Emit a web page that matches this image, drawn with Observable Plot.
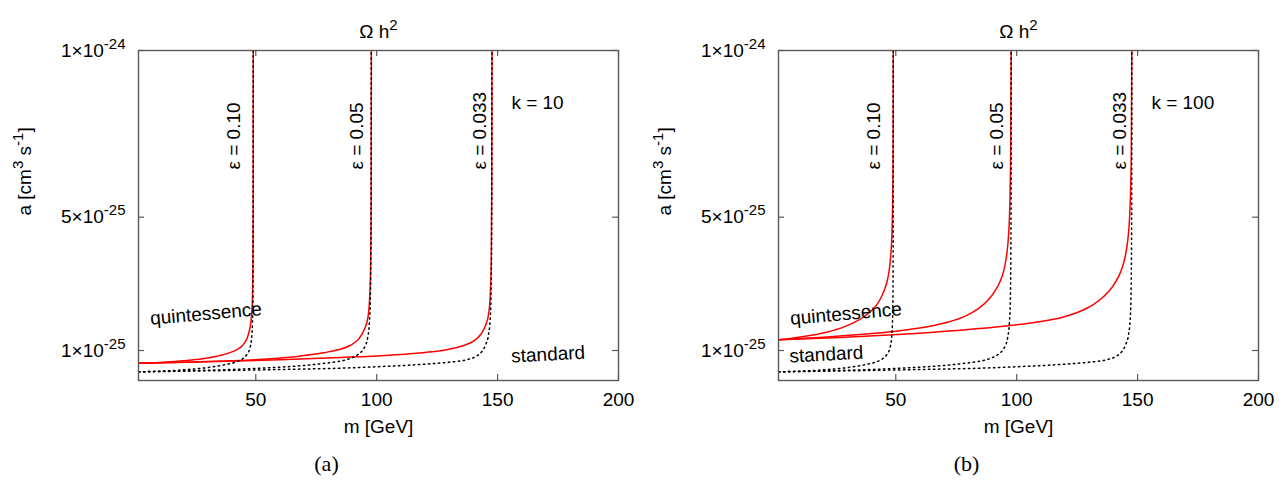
<!DOCTYPE html>
<html><head><meta charset="utf-8">
<script src="https://cdn.jsdelivr.net/npm/d3@7"></script>
<script src="https://cdn.jsdelivr.net/npm/@observablehq/plot@0.6"></script>
<style>
body{margin:0;background:#fff;}
#wrap{display:flex;width:1285px;}
#wrap svg{display:block;}
</style></head><body><div id="wrap"></div>
<script>
// m in GeV; a in units of 1e-25 cm^3 s^-1
const xTicks = [50, 100, 150, 200];
const yTicks = [1, 5, 10];
const yTickLabels = ["1×10^{-25}", "5×10^{-25}", "1×10^{-24}"];
const epsLabels = ["ε = 0.10", "ε = 0.05", "ε = 0.033"];
const kLabels = ["k = 10", "k = 100"];
const panelTags = ["(a)", "(b)"];

// standard cosmology (black dotted), same in both panels
const std_e010 = [[1.5,0.36],[10,0.38],[20,0.42],[28,0.47],[34,0.53],[39,0.60],[42,0.66],[44.5,0.75],[46.3,0.88],[47.5,1.06],[48.2,1.33],[48.6,1.78],[48.82,2.5],[48.9,3.8],[48.94,6],[48.96,10]];
const std_e005 = [[1.5,0.36],[20,0.39],[40,0.43],[55,0.48],[68,0.54],[78,0.61],[84,0.67],[89,0.76],[92.6,0.9],[95,1.1],[96.3,1.4],[97.0,1.85],[97.4,2.6],[97.6,4],[97.7,6],[97.75,10]];
const std_e0033 = [[1.5,0.36],[30,0.39],[60,0.43],[85,0.47],[105,0.53],[120,0.59],[130,0.65],[137,0.72],[141,0.82],[143.5,0.97],[145.2,1.2],[146.3,1.5],[147,2.0],[147.35,3],[147.55,5],[147.65,10]];

// quintessence, k = 10 (red)
const q10_e010 = [[1.5,0.62],[10,0.64],[20,0.69],[28,0.75],[34,0.83],[39,0.93],[42,1.02],[44.5,1.15],[46.3,1.35],[47.5,1.65],[48.2,2.0],[48.6,2.5],[48.8,3.5],[48.9,5],[48.95,10]];
const q10_e005 = [[1.5,0.62],[20,0.65],[40,0.69],[56,0.75],[68,0.83],[78,0.93],[84,1.02],[89,1.15],[92.6,1.35],[95,1.65],[96.4,2.0],[97.1,2.6],[97.5,3.6],[97.7,5],[97.8,10]];
const q10_e0033 = [[1.5,0.62],[30,0.66],[60,0.72],[85,0.79],[105,0.86],[120,0.94],[130,1.04],[136,1.15],[140,1.28],[143,1.48],[145,1.75],[146.3,2.1],[147,2.7],[147.4,3.8],[147.6,6],[147.7,10]];

// quintessence, k = 100 (red)
const q100_e010 = [[1.5,1.32],[10,1.40],[21.4,1.55],[28.3,1.70],[33,1.85],[37,2.02],[40,2.2],[42,2.36],[43.5,2.53],[44.5,2.68],[45.5,2.86],[46.3,3.04],[47,3.28],[47.5,3.53],[48,3.93],[48.4,4.45],[48.65,5.15],[48.8,6.0],[48.9,7.5],[48.95,10]];
const q100_e005 = [[1.5,1.32],[20,1.40],[35,1.48],[49,1.57],[63,1.71],[72,1.86],[79,2.04],[84,2.25],[88,2.5],[91,2.78],[93,3.05],[94.5,3.35],[95.5,3.7],[96.3,4.15],[96.9,4.8],[97.3,5.8],[97.55,7.2],[97.7,10]];
const q100_e0033 = [[1.5,1.32],[25,1.38],[49,1.47],[75,1.6],[97.4,1.75],[110,1.87],[119,2.0],[126,2.17],[131.5,2.37],[136,2.62],[139.5,2.9],[142,3.2],[143.8,3.52],[145.1,3.9],[146,4.35],[146.7,5.0],[147.1,5.8],[147.4,7.0],[147.6,10]];

const stdCurves = [std_e010, std_e005, std_e0033];

function supify(svg) {
  d3.select(svg).selectAll("text").each(function () {
    const txt = this.textContent;
    if (!txt || !txt.includes("^{")) return;
    const parts = txt.split(/\^\{([^}]*)\}/);
    const sel = d3.select(this);
    sel.text(null);
    let raised = false;
    parts.forEach((p, i) => {
      if (!p) return;
      const ts = sel.append("tspan").text(p);
      if (i % 2 === 1) { ts.attr("dy", -8).attr("font-size", 15); raised = true; }
      else if (raised) { ts.attr("dy", 8); raised = false; }
    });
  });
}

function panel(quint, k, tag, stdPos) {
  const W = 640, H = 484, ml = 138, mr = 22, mt = 50, mb = 104;
  const pw = W - ml - mr, ph = H - mt - mb;
  const ink = "#5a5a5a";
  const font = "'Liberation Sans', Arial, sans-serif";
  const svg = Plot.plot({
    width: W, height: H,
    marginLeft: ml, marginRight: mr, marginTop: mt, marginBottom: mb,
    style: {fontFamily: font, fontSize: "19px", color: "#000", background: "#fff"},
    x: {domain: [1.5, 200], label: null},
    y: {domain: [0.1, 10], label: null},
    marks: [
      Plot.tickY(yTicks, {y: d => d, insetRight: pw - 6, stroke: ink, strokeWidth: 1.2}),
      Plot.tickY(yTicks, {y: d => d, insetLeft: pw - 6, stroke: ink, strokeWidth: 1.2}),
      Plot.tickX(xTicks, {x: d => d, insetTop: ph - 6, stroke: ink, strokeWidth: 1.2}),
      Plot.tickX(xTicks, {x: d => d, insetBottom: ph - 6, stroke: ink, strokeWidth: 1.2}),
      Plot.axisX(xTicks, {tickSize: 0, tickPadding: 12, fontSize: 19}),
      Plot.axisY(yTicks, {tickSize: 0, tickPadding: 13, fontSize: 19,
        tickFormat: d => yTickLabels[yTicks.indexOf(d)]}),
      ...quint.map(s => Plot.line(s, {x: d => d[0], y: d => d[1], stroke: "#ff0000",
        strokeWidth: 1.5, curve: "monotone-x", clip: true})),
      ...stdCurves.map(s => Plot.line(s, {x: d => d[0], y: d => d[1], stroke: "#000",
        strokeWidth: 1.5, strokeDasharray: "1.4,3.6", curve: "monotone-x", clip: true})),
      Plot.frame({stroke: ink, strokeWidth: 1.4}),
      Plot.text(epsLabels, {x: (d, i) => [41, 92, 142.5][i], y: 6.43, text: d => d,
        rotate: -90, textAnchor: "start", fontSize: 19}),
      Plot.text([k], {x: 155.7, y: 8.44, text: d => d, textAnchor: "start", fontSize: 19}),
      Plot.text(["quintessence"], {x: 29.4, y: 2.10, text: d => d, rotate: -5, fontSize: 19}),
      Plot.text(["standard"], {x: stdPos[0], y: stdPos[1], text: d => d, rotate: -3, fontSize: 19}),
      Plot.text(["Ω h^{2}"], {frameAnchor: "top", dy: -26, text: d => d, fontSize: 19}),
      Plot.text(["m [GeV]"], {frameAnchor: "bottom", dy: 52, text: d => d, fontSize: 19}),
      Plot.text(["a [cm^{3} s^{-1}]"], {frameAnchor: "left", dx: -114, rotate: -90, text: d => d, fontSize: 19}),
      Plot.text([tag], {frameAnchor: "bottom", dx: -52, dy: 90, text: d => d, fontSize: 22,
        fontFamily: "'Liberation Serif', 'Times New Roman', serif"})
    ]
  });
  supify(svg);
  return svg;
}

const wrap = document.getElementById("wrap");
wrap.appendChild(panel([q10_e010, q10_e005, q10_e0033], kLabels[0], panelTags[0], [170.9, 0.88]));
wrap.appendChild(panel([q100_e010, q100_e005, q100_e0033], kLabels[1], panelTags[1], [21.3, 0.88]));
</script>
</body></html>
